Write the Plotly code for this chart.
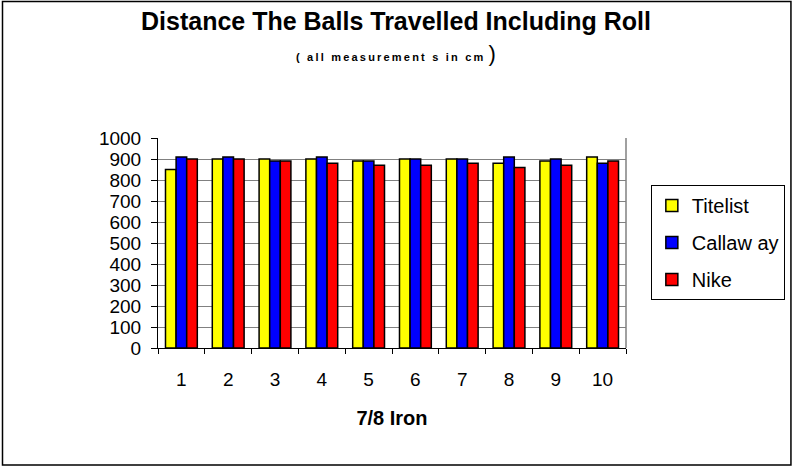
import plotly.graph_objects as go

categories = ["1", "2", "3", "4", "5", "6", "7", "8", "9", "10"]
titelist = [850, 900, 900, 900, 890, 900, 900, 880, 890, 910]
callaway = [910, 910, 890, 910, 890, 900, 900, 910, 900, 880]
nike = [900, 900, 890, 880, 870, 870, 880, 860, 870, 890]
series_names = ["Titelist", "Callaw ay", "Nike"]
series_colors = ["#FFFF00", "#0000FF", "#FF0000"]
y_ticks = [0, 100, 200, 300, 400, 500, 600, 700, 800, 900, 1000]

W, H = 797, 467
L, R, T, B = 158, 168, 138, 119
pw, ph = W - L - R, H - T - B

def px(x):
    return (x - L) / pw

def py(y):
    return (H - B - y) / ph

FONT = "Arial, Liberation Sans, sans-serif"

fig = go.Figure()
for name, vals, col in zip(series_names, [titelist, callaway, nike], series_colors):
    fig.add_trace(go.Bar(
        x=categories, y=vals, name=name, legendgroup=name,
        marker=dict(color=col, line=dict(color="black", width=1.5)),
    ))

fig.update_layout(
    width=W, height=H,
    margin=dict(l=L, r=R, t=T, b=B, pad=0),
    paper_bgcolor="white", plot_bgcolor="white",
    barmode="group", bargap=0.32, bargroupgap=0,
    font=dict(family=FONT, color="black", size=19),
    showlegend=True,
    legend=dict(
        x=px(654), y=py(185), xanchor="left", yanchor="top",
        bordercolor="black", borderwidth=1, bgcolor="white",
        font=dict(family=FONT, size=20, color="black"),
        tracegroupgap=8, itemwidth=30,
    ),
    xaxis=dict(
        type="category", showline=True, linecolor="black", linewidth=1,
        ticks="outside", tickson="boundaries", ticklen=5, tickcolor="black",
        showgrid=False, tickfont=dict(size=19), ticklabelstandoff=14,
        title=dict(text="<b>7/8 Iron</b>", font=dict(size=20), standoff=22),
    ),
    yaxis=dict(
        range=[0, 1000], tickvals=y_ticks, showline=True, linecolor="black",
        linewidth=1, ticks="outside", ticklen=6, tickcolor="black",
        showgrid=True, gridcolor="#808080", gridwidth=1,
        tickfont=dict(size=19), zeroline=False, ticklabelstandoff=6,
    ),
    shapes=[
        dict(type="rect", xref="paper", yref="paper",
             x0=px(1.5), x1=px(795), y0=py(465), y1=py(1.5),
             line=dict(color="black", width=1.5), layer="below"),
        dict(type="line", xref="paper", yref="paper", x0=1, x1=1, y0=0, y1=1,
             line=dict(color="#808080", width=1.5)),
    ],
    annotations=[
        dict(text="<b>Distance The Balls Travelled Including Roll</b>",
             xref="paper", yref="paper", x=px(398), y=py(21),
             xanchor="center", yanchor="middle", showarrow=False,
             font=dict(family=FONT, size=25, color="black")),
        dict(text="<b><span style='letter-spacing:2.2px'>( all measurement s in cm</span></b> "
                  "<span style='font-size:22px'>)</span>",
             xref="paper", yref="paper", x=px(398), y=py(53),
             xanchor="center", yanchor="middle", showarrow=False,
             font=dict(family=FONT, size=11, color="black")),
    ],
)

fig.write_html(
    "out.html",
    config={"displayModeBar": False},
    post_script="document.body.style.margin='0';document.body.style.overflow='hidden';",
)
